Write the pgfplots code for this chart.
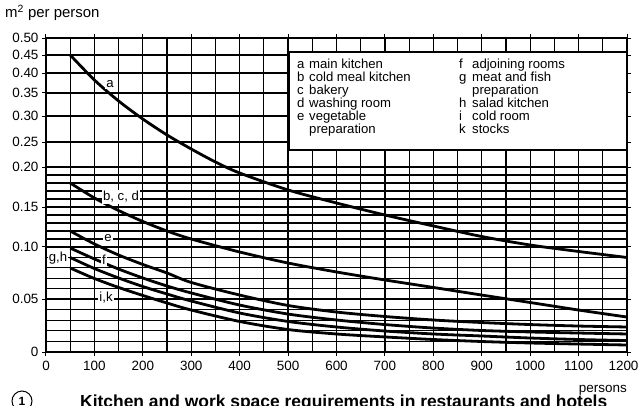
\documentclass[border=0pt]{standalone}
\usepackage{fontspec}
\setmainfont{Liberation Sans}
\usepackage{pgfplots}
\pgfplotsset{compat=1.18}
\newcommand{\lf}{\fontsize{13.2}{13.2}\selectfont}
\newcommand{\tf}{\fontsize{13.5}{13.5}\selectfont}
\begin{document}
\begin{tikzpicture}[x=1bp,y=1bp]
\path[use as bounding box] (-46,-53) rectangle (595,352);
\begin{axis}[
  at={(0,0)}, anchor=south west, scale only axis,
  width=581bp, height=314bp,
  xmin=0, xmax=1200, ymin=0, ymax=0.5,
  y coord trafo/.code={\pgfmathparse{min(#1,0.05)*1060+max(min(#1,0.10)-0.05,0)*1040+max(min(#1,0.20)-0.10,0)*800+max(min(#1,0.25)-0.20,0)*500+max(min(#1,0.30)-0.25,0)*520+max(min(#1,0.35)-0.30,0)*460+max(min(#1,0.40)-0.35,0)*400+max(min(#1,0.45)-0.40,0)*360+max(#1-0.45,0)*340}},
  xtick={0,100,200,300,400,500,600,700,800,900,1000,1100,1200},
  xticklabels={0,100,200,300,400,500,600,700,800,900,1000,1100,{\kern-7bp\relax 1200}},
  ytick={0,0.05,0.10,0.15,0.20,0.25,0.30,0.35,0.40,0.45,0.50},
  yticklabels={0,0.05,0.10,0.15,0.20,0.25,0.30,0.35,0.40,0.45,0.50},
  minor ytick={0.01,0.02,0.03,0.04,0.06,0.07,0.08,0.09,0.11,0.12,0.13,0.14,0.16,0.17,0.18,0.19},
  extra y ticks={0.2}, extra y tick labels={},
  extra y tick style={major grid style={black, line width=2.2bp}},
  ymajorgrids=true, yminorgrids=true,
  major grid style={black, line width=1.2bp},
  minor grid style={black, line width=1.2bp},
  axis line style={black, line width=2bp},
  tick align=outside,
  major tick length=4bp, minor tick length=0bp,
  tick style={black, line width=1bp},
  tick label style={font=\tf},
  /pgf/number format/assume math mode=true,
  xticklabel style={yshift=-2bp},
  clip=false,
]
\pgfplotsinvokeforeach{1,...,23}{
  \draw[black, line width=1.2bp] (rel axis cs:#1/24,0) -- (rel axis cs:#1/24,1);
}
\addplot[black, line width=2.8bp, smooth] coordinates {
(50,0.45)(100,0.3825)(150,0.3326)(200,0.2942)(250,0.2635)(300,0.236)(350,0.210)(400,0.1925)(500,0.1713)(600,0.155)(700,0.140)(800,0.1263)(900,0.1131)(1000,0.1025)(1100,0.0957)(1200,0.0899)};
\addplot[black, line width=2.8bp, smooth] coordinates {
(50,0.18)(100,0.1613)(150,0.1456)(200,0.1319)(250,0.120)(300,0.110)(400,0.0952)(500,0.0846)(600,0.076)(700,0.0683)(800,0.0611)(900,0.0538)(1000,0.0467)(1100,0.0396)(1200,0.033)};
\addplot[black, line width=2.8bp, smooth] coordinates {
(50,0.12)(100,0.1038)(150,0.0923)(200,0.0832)(250,0.075)(300,0.0659)(400,0.0538)(500,0.0439)(600,0.0377)(700,0.0335)(800,0.0302)(900,0.0278)(1000,0.0259)(1100,0.0245)(1200,0.0236)};
\addplot[black, line width=2.8bp, smooth] coordinates {
(50,0.099)(100,0.0885)(150,0.0788)(200,0.0702)(250,0.0625)(300,0.0558)(400,0.0443)(500,0.0358)(600,0.0302)(700,0.0259)(800,0.0226)(900,0.0203)(1000,0.0189)(1100,0.0179)(1200,0.017)};
\addplot[black, line width=2.8bp, smooth] coordinates {
(50,0.0899)(100,0.0793)(150,0.0702)(200,0.062)(250,0.0548)(300,0.0481)(400,0.0368)(500,0.0288)(600,0.0236)(700,0.0198)(800,0.017)(900,0.0151)(1000,0.0132)(1100,0.0118)(1200,0.0108)};
\addplot[black, line width=2.8bp, smooth] coordinates {
(50,0.0798)(100,0.0697)(150,0.0611)(200,0.0534)(250,0.0462)(300,0.0396)(400,0.0288)(500,0.0212)(600,0.017)(700,0.0142)(800,0.0118)(900,0.0099)(1000,0.0085)(1100,0.0075)(1200,0.0066)};
\end{axis}
% legend box
\draw[fill=white, line width=1.5bp] (243,202) rectangle (581,300);
\begin{scope}[every node/.style={anchor=base west, inner sep=0pt, font=\lf}]
\node at (251,284) {a}; \node at (263,284) {main kitchen};
\node at (251,271) {b}; \node at (263,271) {cold meal kitchen};
\node at (251,258) {c}; \node at (263,258) {bakery};
\node at (251,245) {d}; \node at (263,245) {washing room};
\node at (251,232) {e}; \node at (263,232) {vegetable};
\node at (263,219) {preparation};
\node at (413,284) {f}; \node at (426,284) {adjoining rooms};
\node at (413,271) {g}; \node at (426,271) {meat and fish};
\node at (426,258) {preparation};
\node at (413,245) {h}; \node at (426,245) {salad kitchen};
\node at (413,232) {i}; \node at (426,232) {cold room};
\node at (413,219) {k}; \node at (426,219) {stocks};
\end{scope}
% curve labels
\begin{scope}[every node/.style={fill=white, inner sep=1pt, font=\lf}]
\node at (64,268) {a};
\node at (75,155) {b, c, d};
\node at (62,114) {e};
\node at (58,92) {f};
\node at (12,94) {g,h};
\node at (60,54) {i,k};
\end{scope}
% axis titles
\node[anchor=west, inner sep=0pt, font=\fontsize{15}{15}\selectfont] at (-41,339) {m\textsuperscript{2} per person};
\node[anchor=east, inner sep=0pt, font=\tf] at (581,-38) {persons};
\draw[line width=1bp] (-24,-49) circle (10bp);
\node[font=\fontsize{12}{12}\selectfont\bfseries] at (-24,-49) {1};
\node[anchor=base west, inner sep=0pt, font=\fontsize{17.5}{17.5}\selectfont\bfseries] at (34,-55) {Kitchen and work space requirements in restaurants and hotels};
\end{tikzpicture}
\end{document}
